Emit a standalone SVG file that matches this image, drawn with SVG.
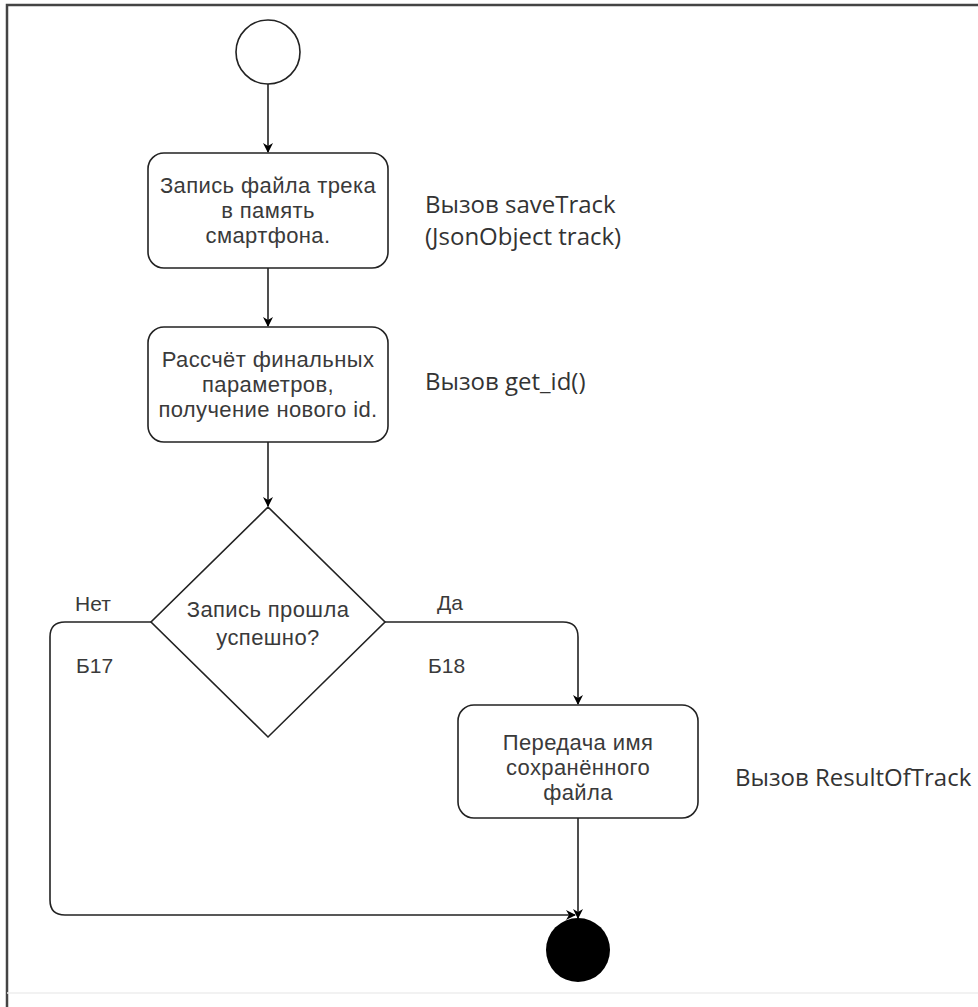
<svg xmlns="http://www.w3.org/2000/svg" width="978" height="1007" viewBox="0 0 978 1007">
<defs>
<marker id="arr" viewBox="0 0 10 10" refX="9" refY="5" markerWidth="10" markerHeight="10" markerUnits="userSpaceOnUse" orient="auto">
<path d="M0,0 L10,5 L0,10 L3,5 Z" fill="#000"/>
</marker>
<style>
.node{fill:#fff;stroke:#222;stroke-width:1.6}
.edge{fill:none;stroke:#222;stroke-width:1.6}
.t{font-family:"Liberation Sans",Arial,sans-serif;font-size:22px;letter-spacing:0.4px;fill:#3a3a3a;text-anchor:middle}
.l{font-family:"Liberation Sans",Arial,sans-serif;font-size:21px;fill:#3a3a3a}
.a{font-family:"Open Sans","Noto Sans",sans-serif;font-size:24px;fill:#333}
</style>
</defs>
<rect width="978" height="1007" fill="#fff"/>
<path d="M7,1007 V5 H978" fill="none" stroke="#444" stroke-width="2.5"/>
<line x1="7" y1="993" x2="978" y2="993" stroke="#eee" stroke-width="1.5"/>
<g id="connectors">
<line class="edge" x1="268" y1="84" x2="268" y2="152" marker-end="url(#arr)"/>
<line class="edge" x1="268" y1="268" x2="268" y2="326" marker-end="url(#arr)"/>
<line class="edge" x1="268" y1="442" x2="268" y2="506" marker-end="url(#arr)"/>
<path class="edge" d="M385,622 H563 Q578,622 578,637 V704" marker-end="url(#arr)"/>
<path class="edge" d="M151,622 H65 Q50,622 50,637 V900 Q50,915 65,915 H575" marker-end="url(#arr)"/>
<line class="edge" x1="578" y1="818" x2="578" y2="918" marker-end="url(#arr)"/>
</g>
<g id="start">
<circle class="node" cx="268" cy="52" r="32"/>
</g>
<g id="box1">
<rect class="node" x="148" y="153" width="240" height="115" rx="16"/>
<text class="t" x="268" y="193">Запись файла трека</text>
<text class="t" x="268" y="218">в память</text>
<text class="t" x="268" y="243">смартфона.</text>
</g>
<g id="note1">
<text class="a" x="425" y="213">Вызов saveTrack</text>
<text class="a" x="425" y="245">(JsonObject track)</text>
</g>
<g id="box2">
<rect class="node" x="148" y="327" width="240" height="115" rx="16"/>
<text class="t" x="268" y="367">Рассчёт финальных</text>
<text class="t" x="268" y="392">параметров,</text>
<text class="t" x="268" y="417">получение нового id.</text>
</g>
<g id="note2">
<text class="a" x="425" y="390">Вызов get_id()</text>
</g>
<g id="decision">
<polygon class="node" points="268,507 385,622 268,737 151,622"/>
<text class="t" x="268" y="617">Запись прошла</text>
<text class="t" x="268" y="645">успешно?</text>
</g>
<g id="labels">
<text class="l" x="75" y="611">Нет</text>
<text class="l" x="76" y="673">Б17</text>
<text class="l" x="437" y="610">Да</text>
<text class="l" x="428" y="673">Б18</text>
</g>
<g id="box3">
<rect class="node" x="458" y="705" width="240" height="113" rx="16"/>
<text class="t" x="578" y="750">Передача имя</text>
<text class="t" x="578" y="775">сохранённого</text>
<text class="t" x="578" y="800">файла</text>
</g>
<g id="note3">
<text class="a" x="735" y="786">Вызов ResultOfTrack</text>
</g>
<g id="end">
<circle cx="578" cy="950" r="32" fill="#000"/>
</g>
</svg>
